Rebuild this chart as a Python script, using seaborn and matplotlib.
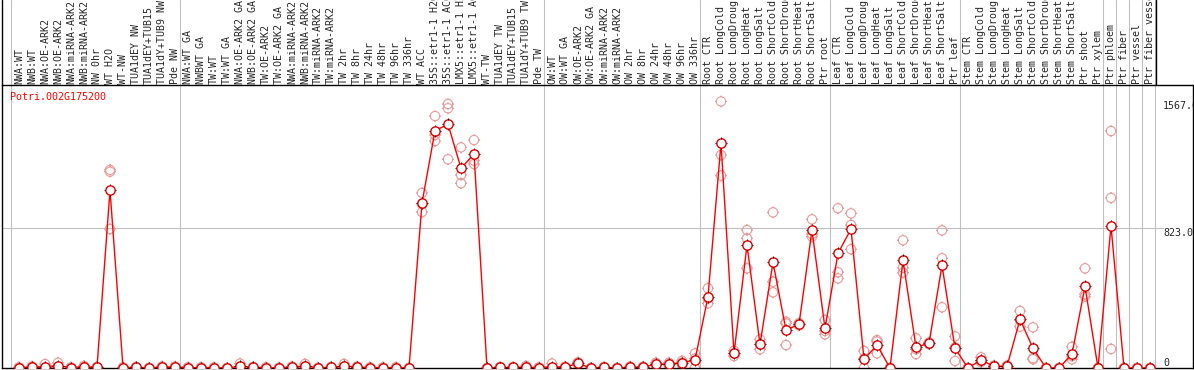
import numpy as np
import pandas as pd
import matplotlib
matplotlib.use("Agg")
import matplotlib.pyplot as plt
from matplotlib.path import Path
from matplotlib.lines import Line2D
import seaborn as sns

gene = "Potri.002G175200"

categories = [
    "NWA:WT", "NWB:WT", "NWA:OE-ARK2", "NWB:OE-ARK2", "NWA:miRNA-ARK2", "NWB:miRNA-ARK2",
    "NW 0hr", "WT H2O", "WT-NW", "TUA1dEY NW", "TUA1dEY+TUB15", "TUA1dY+TUB9 NW", "Pde NW",
    "NWA:WT GA", "NWBWT GA", "TW:WT", "TW:WT GA", "NWA:OE-ARK2 GA", "NWB:OE-ARK2 GA",
    "TW:OE-ARK2", "TW:OE-ARK2 GA", "NWA:miRNA-ARK2", "NWB:miRNA-ARK2", "TW:miRNA-ARK2",
    "TW:miRNA-ARK2", "TW 2hr", "TW 8hr", "TW 24hr", "TW 48hr", "TW 96hr", "TW 336hr",
    "WT ACC", "35S::etr1-1 H2O", "35S::etr1-1 ACC", "LMX5::etr1-1 H2O", "LMX5::etr1-1 ACC",
    "WT-TW", "TUA1dEY TW", "TUA1dEY+TUB15", "TUA1dY+TUB9 TW", "Pde TW",
    "OW:WT", "OW:WT GA", "OW:OE-ARK2", "OW:OE-ARK2 GA", "OW:miRNA-ARK2", "OW:miRNA-ARK2",
    "OW 2hr", "OW 8hr", "OW 24hr", "OW 48hr", "OW 96hr", "OW 336hr",
    "Root CTR", "Root LongCold", "Root LongDrought", "Root LongHeat", "Root LongSalt",
    "Root ShortCold", "Root ShortDrought", "Root ShortHeat", "Root ShortSalt", "Ptr root",
    "Leaf CTR", "Leaf LongCold", "Leaf LongDrought", "Leaf LongHeat", "Leaf LongSalt",
    "Leaf ShortCold", "Leaf ShortDrought", "Leaf ShortHeat", "Leaf ShortSalt", "Ptr leaf",
    "Stem CTR", "Stem LongCold", "Stem LongDrought", "Stem LongHeat", "Stem LongSalt",
    "Stem ShortCold", "Stem ShortDrought", "Stem ShortHeat", "Stem ShortSalt",
    "Ptr shoot", "Ptr xylem", "Ptr phloem", "Ptr fiber", "Ptr vessel", "Ptr fiber vessel",
]

means = [
    2, 6, 8, 14, 2, 8, 4, 1046, 2, 4, 0, 6, 6,
    2, 2, 2, 0, 10, 4, 2, 1, 6, 12, 1, 4, 12, 6, 2, 2, 2, 0,
    970, 1395, 1433, 1174, 1258, 0, 3, 3, 5, 2,
    8, 5, 27, 0, 3, 0, 5, 5, 23, 23, 31, 47,
    419, 1321, 86, 723, 139, 621, 223, 257, 811, 233,
    674, 817, 51, 135, 0, 633, 122, 145, 604, 116,
    0, 47, 10, 10, 286, 116, 0, 0, 82, 480, 0,
    835, 0, 0, 0,
]

reps = [
    (0, 2, 4), (4, 6, 10), (0, 2, 23), (5, 6, 31), (0, 2, 4), (4, 8, 12), (2, 4, 6),
    (817, 1154, 1165), (0, 2, 4), (2, 4, 6), (0, 0, 0), (3, 6, 9), (3, 6, 9),
    (0, 2, 4), (0, 2, 4), (0, 2, 4), (0, 0, 1), (2, 3, 26), (2, 4, 6), (0, 2, 4),
    (0, 1, 2), (3, 6, 9), (4, 8, 24), (0, 1, 2), (2, 4, 6), (4, 8, 24), (3, 6, 9),
    (0, 2, 4), (0, 2, 4), (0, 2, 4), (0, 0, 0),
    (917, 965, 1029), (1334, 1370, 1481), (1227, 1527, 1552), (1086, 1135, 1297),
    (1199, 1219, 1340), (0, 0, 0), (0, 3, 6), (0, 3, 6), (0, 5, 12), (0, 2, 4),
    (0, 0, 26), (2, 5, 8), (20, 27, 34), (0, 0, 0), (0, 3, 6), (0, 0, 0), (2, 5, 8),
    (2, 5, 8), (15, 23, 31), (15, 23, 31), (20, 31, 42), (0, 55, 86),
    (380, 408, 469), (1131, 1252, 1567), (70, 86, 102), (586, 762, 811), (110, 139, 168),
    (445, 507, 915), (135, 262, 272), (250, 257, 264), (772, 787, 874), (198, 218, 282),
    (527, 563, 939), (698, 841, 909), (0, 53, 100), (86, 155, 164), (0, 0, 0),
    (560, 590, 751), (82, 110, 175), (140, 145, 150), (357, 645, 809), (41, 121, 186),
    (0, 0, 0), (35, 43, 63), (5, 10, 15), (5, 10, 15), (243, 280, 335), (51, 58, 239),
    (0, 0, 0), (0, 0, 0), (51, 70, 125), (420, 433, 586), (0, 0, 0),
    (112, 1000, 1393), (0, 0, 0), (0, 0, 0), (0, 0, 0),
]

# last index of each sample group (-1 = left edge)
group_ends = [-1, 12, 40, 52, 62, 72, 83, 84, 85, 86, 87]
y_ticks = [0, 823, 1567]
y_tick_labels = ["0", "823.0", "1567.0"]

W, H = 1194, 370
mono = "DejaVu Sans Mono"
fs = 7.2
grey = "#c0c0c0"
pink = "#eb9a9a"

sns.set_theme(style="white")
plt.rcParams["font.family"] = ["DejaVu Sans Mono", "DejaVu Sans"]

pos = np.arange(len(categories))
mean_df = pd.DataFrame({"pos": pos, "value": means})
rep_df = pd.DataFrame(
    [(i, v) for i, r in enumerate(reps) for v in r], columns=["pos", "value"]
)

# circle marker with short ticks at the four cardinal points
tl = 1.28
circle = Path.unit_circle()
ticks = Path(
    [(0, 1), (0, tl), (0, -1), (0, -tl), (1, 0), (tl, 0), (-1, 0), (-tl, 0)],
    [Path.MOVETO, Path.LINETO] * 4,
)
ring = Path.make_compound_path(circle, ticks)
msize = (9.3 * tl * 0.72) ** 2

fig = plt.figure(figsize=(W / 100, H / 100), dpi=100)
top_px, bot_px, left_px, right_px = 85, 368, 2, 1193
ax = fig.add_axes([left_px / W, (H - bot_px) / H,
                   (right_px - left_px) / W, (bot_px - top_px) / H])
x0 = (left_px - 19) / 13
x1 = (right_px - 19) / 13
ax.set_xlim(x0, x1)
ymax = (bot_px - top_px) * 823 / 140
ax.set_ylim(0, ymax)

# group separators, running up through the label band
for e in group_ends:
    ax.axvline(e + 0.385, ymin=0, ymax=bot_px / (bot_px - top_px),
               color=grey, lw=0.8, clip_on=False, zorder=0)
ax.axhline(823, xmin=0, xmax=(1163 - left_px) / (right_px - left_px),
           color=grey, lw=0.8, zorder=0)

sns.scatterplot(data=rep_df, x="pos", y="value", marker=ring, s=msize,
                color=pink, facecolor="none", edgecolor=pink, linewidth=0.8,
                legend=False, ax=ax, zorder=2)
sns.lineplot(data=mean_df, x="pos", y="value", color="#ff0000", linewidth=1.0,
             estimator=None, legend=False, ax=ax, zorder=3)
sns.scatterplot(data=mean_df, x="pos", y="value", marker=circle, s=(9.3 * 0.72) ** 2,
                color="#ff0000", facecolor="white", edgecolor="#e00000", linewidth=1.0,
                legend=False, ax=ax, zorder=4)
sns.scatterplot(data=mean_df, x="pos", y="value", marker=ticks, s=msize,
                color="#300000", facecolor="none", edgecolor="#300000", linewidth=0.7,
                legend=False, ax=ax, zorder=5)

ax.set_xlabel("")
ax.set_ylabel("")
ax.set_xticks(pos)
ax.set_xticklabels(categories, rotation=90, fontsize=fs, family=mono)
ax.tick_params(axis="x", top=True, bottom=False, labeltop=True, labelbottom=False,
               length=0, pad=1)
ax.set_yticks(y_ticks)
ax.set_yticklabels(y_tick_labels, fontsize=fs, family=mono)
ax.tick_params(axis="y", left=False, labelleft=False, right=True, labelright=True,
               length=0, pad=-21.6)
for t, va in zip(ax.yaxis.get_major_ticks(), ["bottom", "top", "top"]):
    t.label2.set_va(va)
ax.grid(False)

for s in ax.spines.values():
    s.set_color("black")
    s.set_linewidth(1.0)

# frame of the label band
fig.add_artist(Line2D([left_px / W] * 2, [1 - top_px / H, 1], color="black", lw=1.0))
fig.add_artist(Line2D([1156 / W] * 2, [1 - top_px / H, 1], color="black", lw=1.0))

fig.text(10 / W, 1 - 97.5 / H, gene, color="#ff0000", fontsize=fs, family=mono,
         ha="left", va="center")

fig.savefig("out.png", dpi=100)
plt.close(fig)
